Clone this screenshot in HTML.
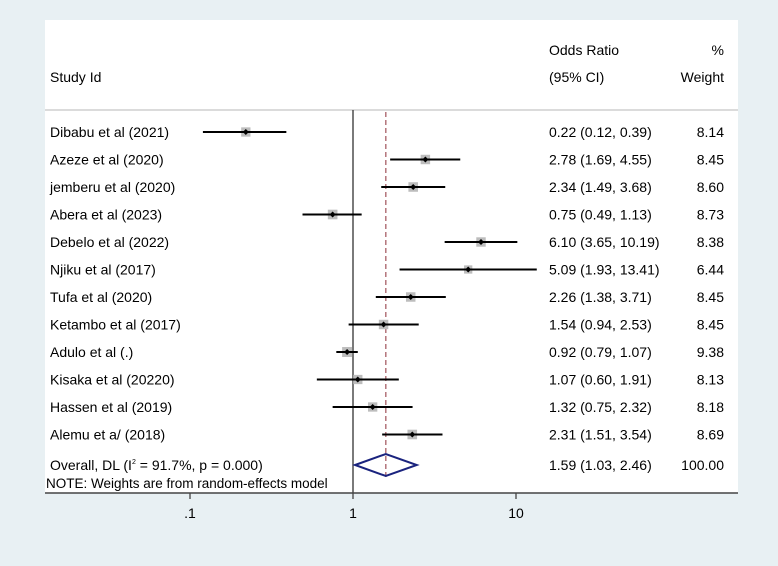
<!DOCTYPE html>
<html><head><meta charset="utf-8"><style>
html,body{margin:0;padding:0;background:#e8f0f3;}
svg{display:block;font-family:"Liberation Sans",Arial,sans-serif;}
</style></head><body>
<svg width="778" height="566" viewBox="0 0 778 566">
<rect x="0" y="0" width="778" height="566" fill="#e8f0f3"/>
<rect x="45" y="20" width="693" height="473" fill="#ffffff"/>
<line x1="45" y1="110" x2="738" y2="110" stroke="#cfcfcf" stroke-width="1.5"/>
<text x="50" y="82" font-size="14">Study Id</text>
<text x="549" y="55" font-size="14">Odds Ratio</text>
<text x="549" y="82" font-size="14">(95% CI)</text>
<text x="724" y="55" font-size="14" text-anchor="end">%</text>
<text x="724" y="82" font-size="14" text-anchor="end">Weight</text>
<g id="marks"></g>
</svg>
<script>
const studies=["Dibabu et al (2021)","Azeze et al (2020)","jemberu et al (2020)","Abera et al (2023)","Debelo et al (2022)","Njiku et al (2017)","Tufa et al (2020)","Ketambo et al (2017)","Adulo et al (.)","Kisaka et al (20220)","Hassen et al (2019)","Alemu et a/ (2018)"];
const orVals=[0.22,2.78,2.34,0.75,6.10,5.09,2.26,1.54,0.92,1.07,1.32,2.31];
const lowVals=[0.12,1.69,1.49,0.49,3.65,1.93,1.38,0.94,0.79,0.60,0.75,1.51];
const highVals=[0.39,4.55,3.68,1.13,10.19,13.41,3.71,2.53,1.07,1.91,2.32,3.54];
const weights=[8.14,8.45,8.60,8.73,8.38,6.44,8.45,8.45,9.38,8.13,8.18,8.69];
const overall={or:1.59,lo:1.03,hi:2.46,w:100.00};
const ticks=[0.1,1,10];
const tickLabels=[".1","1","10"];
const NS="http://www.w3.org/2000/svg";
const g=document.getElementById('marks');
const xs=v=>353+163*Math.log10(v);
const ys=i=>132+27.5*i;
function mk(t,a){const e=document.createElementNS(NS,t);for(const k in a)e.setAttribute(k,a[k]);g.appendChild(e);return e;}
const fmt=v=>v.toFixed(2);
let e=mk('line',{x1:xs(1),y1:110,x2:xs(1),y2:493,stroke:'#333','stroke-width':1.3});


e=mk('line',{x1:xs(overall.or),y1:112,x2:xs(overall.or),y2:478,stroke:'#a0525a','stroke-width':1.2,'stroke-dasharray':'5,3'});


studies.forEach((s,i)=>{
  const y=ys(i);
  let t=mk('text',{x:50,y:y+5,'font-size':14});t.textContent=s;
  
  
  const sz=9.5*Math.sqrt(weights[i]/8.5);
  let r=mk('rect',{x:xs(orVals[i])-sz/2,y:y-sz/2,width:sz,height:sz,fill:'#bdbdbd'});
  
  
  let l=mk('line',{x1:xs(lowVals[i]),y1:y,x2:xs(highVals[i]),y2:y,stroke:'#000','stroke-width':2});
  
  
  const cx=xs(orVals[i]);
  let p=mk('polygon',{points:`${cx-3},${y} ${cx},${y-3} ${cx+3},${y} ${cx},${y+3}`,fill:'#000'});
  
  
  t=mk('text',{x:549,y:y+5,'font-size':14});t.textContent=`${fmt(orVals[i])} (${fmt(lowVals[i])}, ${fmt(highVals[i])})`;
  
  
  t=mk('text',{x:724,y:y+5,'font-size':14,'text-anchor':'end'});t.textContent=fmt(weights[i]);
  
  
});
const oy=ys(12)+3;
let d=mk('polygon',{points:`${xs(overall.lo)},${oy} ${xs(overall.or)},${oy-11} ${xs(overall.hi)},${oy} ${xs(overall.or)},${oy+11}`,fill:'none',stroke:'#1a237e','stroke-width':2});


let t=mk('text',{x:50,y:oy+5,'font-size':14});
t.innerHTML='Overall, DL (I<tspan font-size="7" dy="-6">2</tspan><tspan dy="6"> = 91.7%, p = 0.000)</tspan>';


t=mk('text',{x:549,y:oy+5,'font-size':14});t.textContent=`${fmt(overall.or)} (${fmt(overall.lo)}, ${fmt(overall.hi)})`;


t=mk('text',{x:724,y:oy+5,'font-size':14,'text-anchor':'end'});t.textContent=fmt(overall.w);


t=mk('text',{x:46,y:488,'font-size':13.5});t.textContent='NOTE: Weights are from random-effects model';


let ax=mk('line',{x1:45,y1:493,x2:738,y2:493,stroke:'#444','stroke-width':1.5});


ticks.forEach((v,i)=>{
  let tk=mk('line',{x1:xs(v),y1:493,x2:xs(v),y2:499,stroke:'#444','stroke-width':1.3});
  
  
  let tl=mk('text',{x:xs(v),y:518,'font-size':14,'text-anchor':'middle'});tl.textContent=tickLabels[i];
  
  
});
</script>
</body></html>
